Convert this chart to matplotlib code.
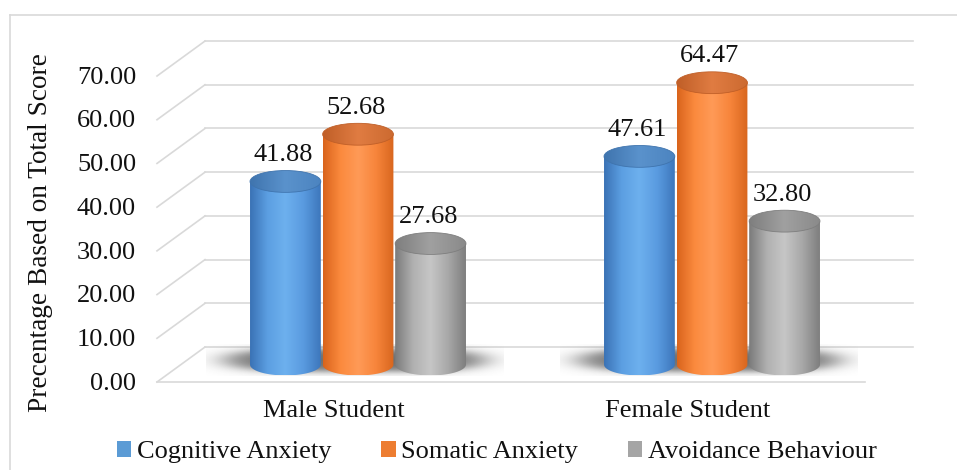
import numpy as np
import matplotlib
matplotlib.use("Agg")
import matplotlib.pyplot as plt
from matplotlib.patches import Ellipse, PathPatch, Patch
from matplotlib.path import Path
from matplotlib.colors import LinearSegmentedColormap
from matplotlib.lines import Line2D

plt.rcParams['font.family'] = ['Liberation Serif', 'DejaVu Serif']

# data
categories = ['Male Student', 'Female Student']
series_names = ['Cognitive Anxiety', 'Somatic Anxiety', 'Avoidance Behaviour']
cognitive = [41.88, 47.61]
somatic = [52.68, 64.47]
avoidance = [27.68, 32.80]
values = [cognitive, somatic, avoidance]
yticks = [0, 10, 20, 30, 40, 50, 60, 70]

# styles
body_stops = [
    ['#3a72b5', '#5c9fe2', '#6db0ee', '#5a9be0', '#3d77bc'],
    ['#d9641c', '#fb8a3e', '#ff9a57', '#f7853b', '#d8661e'],
    ['#7a7a7a', '#b0b0b0', '#c6c6c6', '#a8a8a8', '#7e7e7e'],
]
top_stops = [
    ['#3f74ae', '#5a92cc', '#4c84c0'],
    ['#c05f28', '#e07c42', '#cc6a30'],
    ['#7e7e7e', '#a0a0a0', '#8a8a8a'],
]
legend_colors = ['#5b9bd5', '#ed7d31', '#a5a5a5']
grid_color = '#d9d9d9'
text_color = '#111111'

DX, DY = 0.1356, 8.0          # depth offset of back wall (x units, value units)
R, EH = 0.1, 2.5              # cylinder radius (x units), ellipse half height (value units)
STEP = 0.205

fig = plt.figure(figsize=(9.57, 4.70), dpi=100)
ax = fig.add_axes([0, 0, 1, 1])
ax.axis('off')

# walls / gridlines
for v in yticks:
    ax.plot([-0.5 + DX, 1.5 + DX], [v + DY, v + DY], color=grid_color, lw=1.2, zorder=1)
    ax.plot([-0.5, -0.5 + DX], [v, v + DY], color=grid_color, lw=1.2, zorder=1)
ax.plot([-0.5, 1.5], [0, 0], color=grid_color, lw=1.2, zorder=1)

# tick labels
for v in yticks:
    ax.text(-0.5593, v - 0.4, f'{v:.2f}', ha='right', va='center', fontsize=19, color=text_color)
ax.text(-0.8305, 34.1, 'Precentage Based on Total Score', rotation=90,
        ha='center', va='center', fontsize=19.6, color=text_color)

# floor shadows (soft)
xs = np.linspace(-1, 1, 300)
ys = np.linspace(-1, 1, 80)
gx, gy = np.meshgrid(xs, ys)
d = np.sqrt(np.abs(gx) ** 4 + np.abs(gy) ** 2)
alpha = 0.7 / (1 + np.exp((d - 0.72) / 0.13))
shadow = np.zeros((80, 300, 4))
shadow[..., :3] = 0.2
shadow[..., 3] = alpha
for c in range(len(categories)):
    cx = c + DX / 2 - 0.008
    ax.imshow(shadow, extent=[cx - 0.42, cx + 0.42, DY / 2 - 2.6, DY / 2 + 4.6],
              aspect='auto', origin='lower', zorder=2, interpolation='bilinear')

# cylinders
grad = np.linspace(0, 1, 256)[None, :]
for s in range(len(series_names)):
    body_cm = LinearSegmentedColormap.from_list('b%d' % s, body_stops[s])
    top_cm = LinearSegmentedColormap.from_list('t%d' % s, top_stops[s])
    for c in range(len(categories)):
        v = values[s][c]
        xc = c + (s - 1) * STEP + DX / 2
        base = DY / 2
        top = base + v
        z = 5 - s
        t = np.linspace(np.pi, 2 * np.pi, 60)
        verts = [(xc - R, top)] + list(zip(xc + R * np.cos(t), base + EH * np.sin(t))) + [(xc + R, top), (xc - R, top)]
        clip = PathPatch(Path(verts), transform=ax.transData, facecolor='none', edgecolor='none')
        ax.add_patch(clip)
        im = ax.imshow(grad, extent=[xc - R, xc + R, base - EH, top], aspect='auto',
                       cmap=body_cm, zorder=z, interpolation='bilinear')
        im.set_clip_path(clip)
        ell = Ellipse((xc, top), 2 * R, 2 * EH, transform=ax.transData, facecolor='none', edgecolor='none')
        ax.add_patch(ell)
        im2 = ax.imshow(grad, extent=[xc - R, xc + R, top - EH, top + EH], aspect='auto',
                        cmap=top_cm, zorder=z + 0.1, interpolation='bilinear')
        im2.set_clip_path(ell)
        ax.add_patch(Ellipse((xc, top), 2 * R, 2 * EH, facecolor='none',
                             edgecolor=top_stops[s][0], lw=0.6, zorder=z + 0.2))
        ax.text(xc - 0.006, top + 6.0, f'{v:.2f}', ha='center', va='center',
                fontsize=19, color=text_color, zorder=10)

# category labels
for c, name in enumerate(categories):
    ax.text(c, -6.63, name, ha='center', va='center', fontsize=19, color=text_color)

ax.set_xlim(-0.9435, 1.7599)
ax.set_ylim(-20.13, 87.39)

handles = [Patch(facecolor=legend_colors[i], edgecolor='none', label=series_names[i]) for i in range(3)]
leg = fig.legend(handles=handles, loc='center', bbox_to_anchor=(0.519, 0.038), ncol=3, frameon=False,
                 fontsize=19, handlelength=0.55, handleheight=0.55, handletextpad=0.2,
                 columnspacing=1.9, borderpad=0, borderaxespad=0)
for txt in leg.get_texts():
    txt.set_color(text_color)

# outer frame
fig.add_artist(Line2D([0.0104, 0.0104], [0, 0.968], color=grid_color, lw=1.2, transform=fig.transFigure))
fig.add_artist(Line2D([0.0104, 1.0], [0.968, 0.968], color=grid_color, lw=1.2, transform=fig.transFigure))

fig.savefig('out.png', dpi=100)
